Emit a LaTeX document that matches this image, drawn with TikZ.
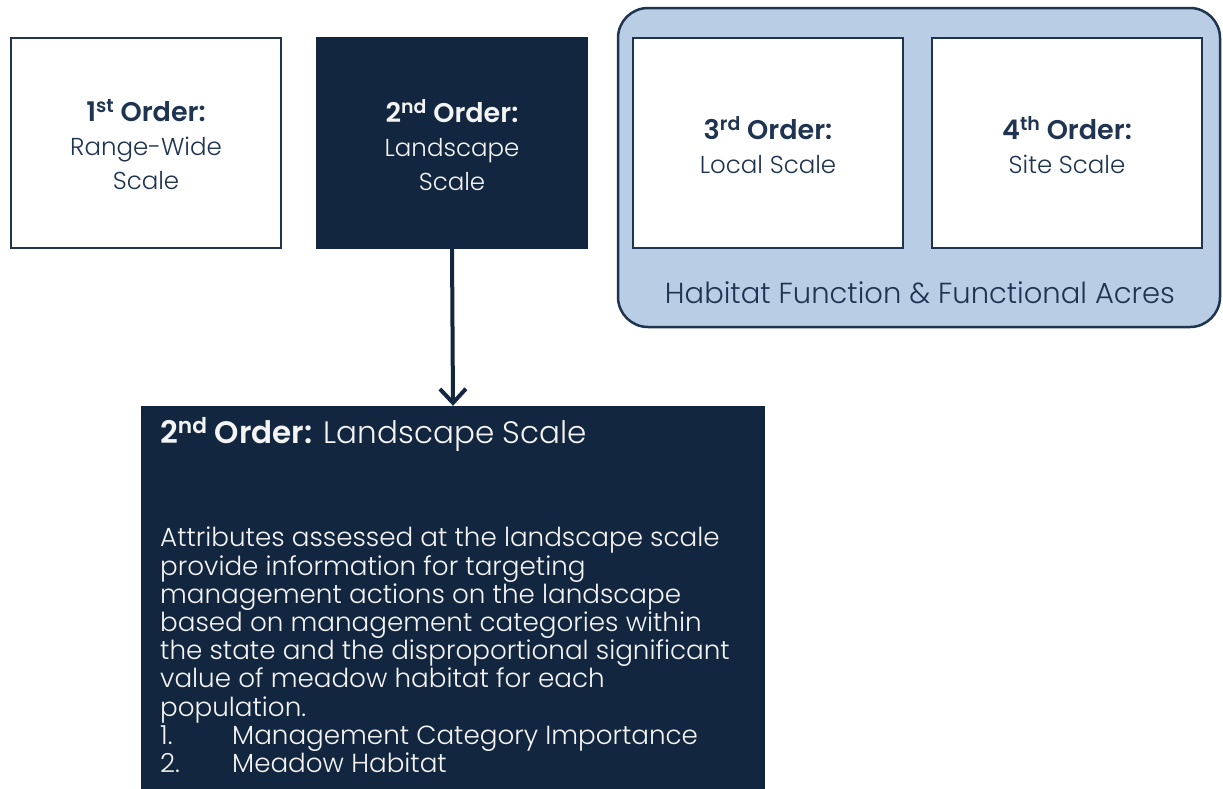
\documentclass[tikz,border=0pt]{standalone}
\usepackage{fontspec}
\setmainfont{Poppins}[UprightFont=* Light, BoldFont=* SemiBold]
\usetikzlibrary{arrows.meta}
\definecolor{navy}{HTML}{13263F}
\definecolor{edge}{HTML}{1F3450}
\definecolor{pale}{HTML}{B9CDE5}
\definecolor{offwhite}{HTML}{F4F4F4}
\tikzset{
  whitebox/.style={draw=edge, line width=2pt, fill=white, minimum width=270pt, minimum height=210pt, inner sep=0pt},
  darkbox/.style={draw=navy, line width=2pt, fill=navy, minimum width=270pt, minimum height=210pt, inner sep=0pt},
  boxtext/.style={align=center, font=\fontsize{24.5}{34}\selectfont, inner sep=0pt},
}
\newcommand{\bigbold}[1]{{\fontsize{27}{34}\selectfont\textbf{#1}}}
\begin{document}
\begin{tikzpicture}[x=1pt,y=-1pt]
\useasboundingbox (0,0) rectangle (1223,788);
% container
\draw[draw=edge, line width=2.5pt, fill=pale, rounded corners=30pt] (618,8) rectangle (1220,327);
% top boxes
\node[whitebox] (b1) at (146,143) {};
\node[darkbox] (b2) at (452,143) {};
\node[whitebox] (b3) at (768,143) {};
\node[whitebox] (b4) at (1067,143) {};
\node[boxtext, text=edge] (t1) at (146,145) {\bigbold{1\textsuperscript{st} Order:}\\Range-Wide\\Scale};
\node[boxtext, text=offwhite] (t2) at (452,145) {\bigbold{2\textsuperscript{nd} Order:}\\Landscape\\Scale};
\node[boxtext, text=edge] (t3) at (768,145) {\bigbold{3\textsuperscript{rd} Order:}\\Local Scale};
\node[boxtext, text=edge] (t4) at (1067,145) {\bigbold{4\textsuperscript{th} Order:}\\Site Scale};
\node[font=\fontsize{29}{34}\selectfont, text=edge, inner sep=0pt] (lab) at (920,293) {Habitat Function \& Functional Acres};
% bottom box
\node[fill=navy, minimum width=624pt, minimum height=383pt, inner sep=0pt] (bb) at (453,597.5) {};
\node[anchor=base west, font=\fontsize{31}{34}\selectfont, text=offwhite, inner sep=0pt] (bt) at (160,443) {\textbf{2\textsuperscript{nd} Order:} Landscape Scale};
\node[anchor=north west, align=left, font=\fontsize{26.2}{28.2}\selectfont, text=offwhite, inner sep=0pt] (body) at (160,527) {Attributes assessed at the landscape scale\\
provide information for targeting\\
management actions on the landscape\\
based on management categories within\\
the state and the disproportional significant\\
value of meadow habitat for each\\
population.\\
\makebox[72pt][l]{1.}Management Category Importance\\
\makebox[72pt][l]{2.}Meadow Habitat};
% arrow
\draw[draw=navy, line width=4pt, -{Straight Barb[length=14pt, width=26pt]}] (b2.south) -- (bb.north);
\end{tikzpicture}
\end{document}
